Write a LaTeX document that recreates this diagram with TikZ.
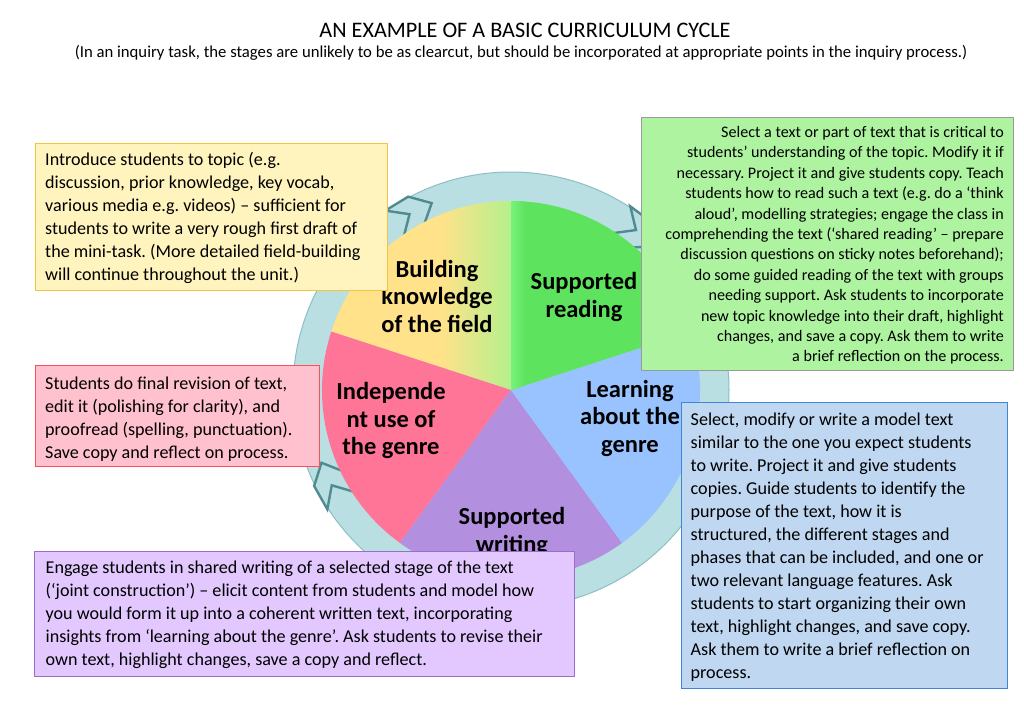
\documentclass[tikz,border=0pt]{standalone}
\usepackage{fontspec}
\setmainfont{Carlito}
\definecolor{ringfill}{HTML}{B9DFE2}
\definecolor{ringedge}{HTML}{8CBFC4}
\definecolor{chevedge}{HTML}{4F8B90}
\definecolor{slyellow}{HTML}{FFE28A}
\definecolor{slygreen}{HTML}{B5F08C}
\definecolor{slgreen}{HTML}{5EE35E}
\definecolor{slgreenlt}{HTML}{78F27A}
\definecolor{slblue}{HTML}{99C3FF}
\definecolor{slpurple}{HTML}{B38FE0}
\definecolor{slpink}{HTML}{FF7598}
\definecolor{byfill}{HTML}{FFF4BE}
\definecolor{byedge}{HTML}{F6C243}
\definecolor{bgfill}{HTML}{AEF4A0}
\definecolor{bgedge}{HTML}{9A9A9A}
\definecolor{bpfill}{HTML}{FFC1CE}
\definecolor{bpedge}{HTML}{F5525A}
\definecolor{bbfill}{HTML}{BFD7F0}
\definecolor{bbedge}{HTML}{3D86D8}
\definecolor{bvfill}{HTML}{E2C8FE}
\definecolor{bvedge}{HTML}{9B6CC8}
\begin{document}
\frenchspacing
\begin{tikzpicture}[x=1pt,y=-1pt,
  notebox/.style={draw, line width=1pt, anchor=north west, inner sep=0pt},
  notetext/.style={inner sep=0pt, align=left, anchor=west,
    font={\fontsize{18.1}{23}\selectfont}, text=black},
  slicelabel/.style={align=center, font={\bfseries\fontsize{24.5}{27.5}\selectfont}, text=black},
  chev/.style={fill=ringfill, draw=chevedge, line width=2.4pt, line join=miter}
]
\useasboundingbox (0,0) rectangle (1024,709);
\fill[white] (0,0) rectangle (1024,709);
\coordinate (c) at (511,390);

% ring
\begin{scope}[shift={(c)}]
  \fill[ringfill] (0,0) circle (218pt);
  \draw[ringedge, line width=1pt] (0,0) circle (218pt);
  \foreach \T in {213,125,57} {
    \draw[chev] (\T:219pt) -- ({\T-7}:219pt) -- ({\T-12}:203pt) -- ({\T-7}:186pt)
      -- (\T:187pt) -- ({\T-5}:203pt) -- cycle;
  }
  % pie slices
  \fill[slyellow] (0,0) -- (90:189pt) arc[start angle=90, end angle=162, radius=189pt] -- cycle;
  \begin{scope}
    \clip (0,0) -- (90:189pt) arc[start angle=90, end angle=162, radius=189pt] -- cycle;
    \shade[left color=slyellow, right color=slygreen] (-70pt,-10pt) rectangle (0pt,200pt);
  \end{scope}
  \fill[slpink] (0,0) -- (162:189pt) arc[start angle=162, end angle=234, radius=189pt] -- cycle;
  \fill[slpurple] (0,0) -- (234:189pt) arc[start angle=234, end angle=306, radius=189pt] -- cycle;
  \fill[slblue] (0,0) -- (306:189pt) arc[start angle=306, end angle=378, radius=189pt] -- cycle;
  \fill[slgreen] (0,0) -- (18:189pt) arc[start angle=18, end angle=90, radius=189pt] -- cycle;
  \begin{scope}
    \clip (0,0) -- (18:189pt) arc[start angle=18, end angle=90, radius=189pt] -- cycle;
    \shade[left color=slgreenlt, right color=slgreen] (0pt,0pt) rectangle (14pt,200pt);
  \end{scope}
\end{scope}

% slice labels
\node[slicelabel] (lbk) at (437,296) {Building\\knowledge\\of the field};
\node[slicelabel] (lsr) at (584,297) {Supported\\reading};
\node[slicelabel] (llg) at (630,418) {Learning\\about the\\genre};
\node[slicelabel] (lig) at (391,420.5) {Independe\\nt use of\\the genre};
\node[slicelabel] (lsw) at (512,532) {Supported\\writing};

% note boxes
\node[notebox, fill=byfill, draw=byedge, minimum width=352pt, minimum height=147pt] (nbk) at (35,143) {};
\node[notetext] (tbk) at ([xshift=10pt,yshift=-1pt]nbk.west)
  {Introduce students to topic (e.g.\\
   discussion, prior knowledge, key vocab,\\
   various media e.g. videos) – sufficient for\\
   students to write a very rough first draft of\\
   the mini-task. (More detailed field-building\\
   will continue throughout the unit.)};

\node[notebox, fill=bgfill, draw=bgedge, minimum width=372pt, minimum height=253pt] (nsr) at (641,117) {};
\node[notetext, anchor=east, align=right, font={\fontsize{16.1}{20.4}\selectfont}] (tsr)
  at ([xshift=-10pt,yshift=-1.5pt]nsr.east)
  {Select a text or part of text that is critical to\\
   students’ understanding of the topic. Modify it if\\
   necessary. Project it and give students copy. Teach\\
   students how to read such a text (e.g. do a ‘think\\
   aloud’, modelling strategies; engage the class in\\
   comprehending the text (‘shared reading’ – prepare\\
   discussion questions on sticky notes beforehand);\\
   do some guided reading of the text with groups\\
   needing support. Ask students to incorporate\\
   new topic knowledge into their draft, highlight\\
   changes, and save a copy. Ask them to write\\
   a brief reflection on the process.};

\node[notebox, fill=bpfill, draw=bpedge, minimum width=284pt, minimum height=101pt] (nig) at (35,365) {};
\node[notetext] (tig) at ([xshift=10pt,yshift=-3pt]nig.west)
  {Students do final revision of text,\\
   edit it (polishing for clarity), and\\
   proofread (spelling, punctuation).\\
   Save copy and reflect on process.};

\node[notebox, fill=bbfill, draw=bbedge, minimum width=326pt, minimum height=286pt] (nlg) at (681,402) {};
\node[notetext] (tlg) at ([xshift=9.5pt,yshift=-2pt]nlg.west)
  {Select, modify or write a model text\\
   similar to the one you expect students\\
   to write. Project it and give students\\
   copies. Guide students to identify the\\
   purpose of the text, how it is\\
   structured, the different stages and\\
   phases that can be included, and one or\\
   two relevant language features. Ask\\
   students to start organizing their own\\
   text, highlight changes, and save copy.\\
   Ask them to write a brief reflection on\\
   process.};

\node[notebox, fill=bvfill, draw=bvedge, minimum width=540pt, minimum height=125pt] (nsw) at (34,551) {};
\node[notetext] (tsw) at ([xshift=11.5pt,yshift=-1pt]nsw.west)
  {Engage students in shared writing of a selected stage of the text\\
   (‘joint construction’) – elicit content from students and model how\\
   you would form it up into a coherent written text, incorporating\\
   insights from ‘learning about the genre’. Ask students to revise their\\
   own text, highlight changes, save a copy and reflect.};

% title
\node[font={\fontsize{22.2}{26}\selectfont}] (title) at (525,30) {AN EXAMPLE OF A BASIC CURRICULUM CYCLE};
\node[font={\fontsize{16.7}{20}\selectfont}] (sub) at (521,53) {(In an inquiry task, the stages are unlikely to be as clearcut, but should be incorporated at appropriate points in the inquiry process.)};
\end{tikzpicture}
\end{document}
